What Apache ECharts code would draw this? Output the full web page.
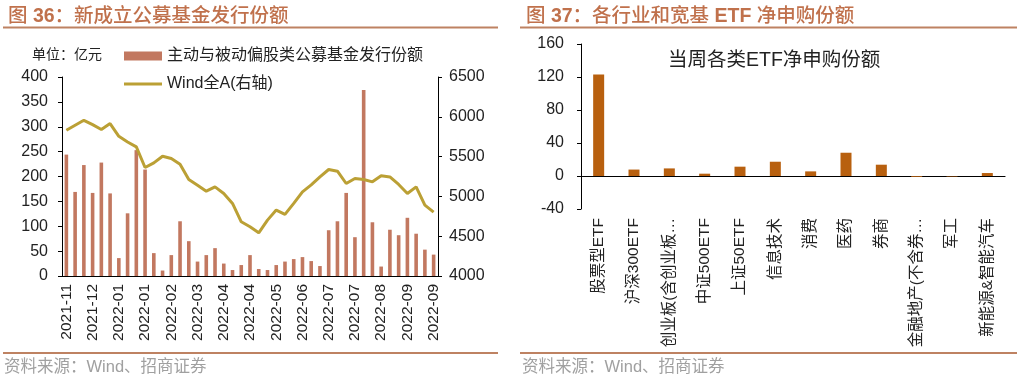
<!DOCTYPE html>
<html>
<head>
<meta charset="utf-8">
<script src="https://cdn.jsdelivr.net/npm/echarts@6/dist/echarts.min.js"></script>
<style>
  html, body { margin: 0; padding: 0; background: #fff; }
  #main { width: 1020px; height: 377px; }
</style>
</head>
<body>
<div id="main"></div>
<script>
// 图36 新成立公募基金发行份额 (周度)
var weekLabels = [
  '2021-11','2021-11','2021-11','2021-12','2021-12','2021-12','2022-01','2022-01','2022-01','2022-01',
  '2022-02','2022-02','2022-02','2022-03','2022-03','2022-03','2022-03','2022-04','2022-04','2022-04',
  '2022-04','2022-04','2022-05','2022-05','2022-05','2022-06','2022-06','2022-06','2022-06','2022-07',
  '2022-07','2022-07','2022-07','2022-07','2022-08','2022-08','2022-08','2022-08','2022-09','2022-09',
  '2022-09','2022-09','2022-09'
];
var fundIssue = [
  244, 169, 223, 167, 228, 166, 36, 126, 253, 214,
  46, 11, 42, 110, 70, 29, 42, 56, 25, 12,
  22, 42, 14, 12, 22, 29, 34, 38, 30, 20,
  92, 110, 167, 78, 374, 108, 19, 93, 82, 117,
  85, 53, 43
];
var windA = [
  5831, 5894, 5956, 5902, 5840, 5915, 5755, 5684, 5622, 5363,
  5421, 5505, 5476, 5405, 5212, 5141, 5066, 5120, 5037, 4912,
  4681, 4618, 4543, 4702, 4828, 4774, 4912, 5057, 5145, 5245,
  5338, 5317, 5162, 5225, 5212, 5183, 5258, 5245, 5150, 5037,
  5120, 4890, 4803
];

// 图37 各行业和宽基ETF净申购份额
var etfNames = ['股票型ETF','沪深300ETF','创业板(含创业板…','中证500ETF','上证50ETF','信息技术',
  '消费','医药','券商','金融地产(不含券…','军工','新能源&智能汽车'];
var etfNetBuy = [123, 7.8, 9.2, 2.8, 11.3, 17.3, 5.6, 28.2, 13.7, -1, -0.6, 3.6];

var FONT = '"Liberation Sans", Arial, "Noto Sans CJK SC", sans-serif';
var TITLE_COLOR = '#C0714C';
var RULE_COLOR = '#BE8262';

var myChart = echarts.init(document.getElementById('main'), null, { renderer: 'canvas' });

function axisBase(margin) {
  return {
    axisLine: { show: true, lineStyle: { color: '#000', width: 1 } },
    axisTick: { show: true, length: 4, lineStyle: { color: '#000' } },
    splitLine: { show: false },
    axisLabel: {
      color: '#222', fontSize: 16, fontFamily: FONT, margin: margin,
      formatter: function (v) { return String(v); }
    }
  };
}

var titleRich = {
  n: { fontSize: 19.5, color: TITLE_COLOR, fontFamily: FONT, fontWeight: 500 },
  b: { fontSize: 19.5, color: TITLE_COLOR, fontFamily: FONT, fontWeight: 'bold' }
};

var option = {
  backgroundColor: '#fff',
  textStyle: { fontFamily: FONT },
  animation: false,
  title: [
    {
      text: '{n|图 }{b|36}{n|：新成立公募基金发行份额}',
      left: 3, top: 2,
      textStyle: { rich: titleRich }
    },
    {
      text: '{n|图 }{b|37}{n|：各行业和宽基 }{b|ETF}{n| 净申购份额}',
      left: 521, top: 2,
      textStyle: { rich: titleRich }
    },
    {
      text: '当周各类ETF净申购份额',
      left: 663, top: 46,
      textStyle: { fontSize: 19.5, color: '#222', fontWeight: 'normal', fontFamily: FONT }
    },
    {
      text: '单位：亿元',
      left: 27, top: 43,
      textStyle: { fontSize: 14, color: '#222', fontWeight: 'normal', fontFamily: FONT }
    },
    {
      text: '资料来源：Wind、招商证券',
      left: -1, top: 354,
      textStyle: { fontSize: 16.5, color: '#A0A0A0', fontWeight: 'normal', fontFamily: FONT }
    },
    {
      text: '资料来源：Wind、招商证券',
      left: 517, top: 354,
      textStyle: { fontSize: 16.5, color: '#A0A0A0', fontWeight: 'normal', fontFamily: FONT }
    }
  ],
  graphic: [
    { type: 'rect', shape: { x: 3, y: 26.5, width: 495, height: 2 }, style: { fill: RULE_COLOR } },
    { type: 'rect', shape: { x: 520, y: 26.5, width: 497, height: 2 }, style: { fill: RULE_COLOR } },
    { type: 'rect', shape: { x: 3, y: 352, width: 495, height: 2 }, style: { fill: RULE_COLOR } },
    { type: 'rect', shape: { x: 520, y: 352, width: 497, height: 2 }, style: { fill: RULE_COLOR } }
  ],
  legend: {
    orient: 'vertical',
    left: 119, top: 43,
    itemWidth: 38, itemHeight: 9, itemGap: 12,
    textStyle: { fontSize: 16, color: '#222', fontFamily: FONT },
    data: [
      { name: '主动与被动偏股类公募基金发行份额', icon: 'rect' },
      { name: 'Wind全A(右轴)', icon: 'path://M0,0 L38,0 L38,3 L0,3 Z' }
    ]
  },
  grid: [
    { left: 62, top: 77, width: 376, height: 199 },
    { left: 581, top: 44, width: 424, height: 165 }
  ],
  xAxis: [
    {
      type: 'category', gridIndex: 0, data: weekLabels, boundaryGap: true,
      axisLine: { show: true, lineStyle: { color: '#000', width: 1 } },
      axisTick: { show: false },
      axisLabel: { color: '#222', fontSize: 15.5, fontFamily: FONT, rotate: 90, interval: 2, margin: 8 }
    },
    // right chart: labels at the bottom, line at zero drawn by the next axis
    {
      type: 'category', gridIndex: 1, data: etfNames, boundaryGap: true,
      axisLine: { show: false }, axisTick: { show: false },
      axisLabel: { color: '#222', fontSize: 15.5, fontFamily: FONT, rotate: 90, interval: 0, margin: 9 }
    },
    {
      type: 'category', gridIndex: 1, data: etfNames, boundaryGap: true,
      axisLine: { show: true, onZero: true, onZeroAxisIndex: 2, lineStyle: { color: '#000', width: 1.2 } },
      axisTick: { show: false }, axisLabel: { show: false }
    }
  ],
  yAxis: [
    Object.assign(axisBase(14), {
      type: 'value', gridIndex: 0, min: 0, max: 400, interval: 50, position: 'left'
    }),
    Object.assign(axisBase(11), {
      type: 'value', gridIndex: 0, min: 4000, max: 6500, interval: 500, position: 'right'
    }),
    Object.assign(axisBase(17), {
      type: 'value', gridIndex: 1, min: -40, max: 160, interval: 40, position: 'left'
    })
  ],
  series: [
    {
      name: '主动与被动偏股类公募基金发行份额',
      type: 'bar', xAxisIndex: 0, yAxisIndex: 0,
      barWidth: 3.6,
      itemStyle: { color: '#C27860' },
      data: fundIssue
    },
    {
      name: 'Wind全A(右轴)',
      type: 'line', xAxisIndex: 0, yAxisIndex: 1,
      symbol: 'none',
      lineStyle: { color: '#BBA035', width: 3 },
      itemStyle: { color: '#BBA035' },
      data: windA,
      z: 3
    },
    {
      name: '当周各类ETF净申购份额',
      type: 'bar', xAxisIndex: 1, yAxisIndex: 2,
      barWidth: 11,
      itemStyle: { color: '#B8600F' },
      data: etfNetBuy
    }
  ]
};

myChart.setOption(option);
</script>
</body>
</html>
